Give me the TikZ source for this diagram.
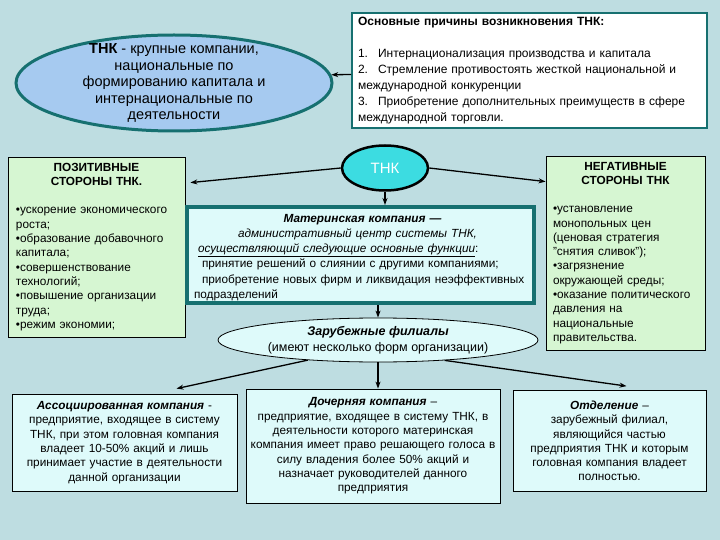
\documentclass[tikz,border=0pt]{standalone}
\usepackage{fontspec}
\setmainfont{Liberation Sans}
\usetikzlibrary{shapes.geometric,arrows.meta}
\definecolor{bgcol}{RGB}{190,221,225}
\definecolor{ellcol}{RGB}{166,202,240}
\definecolor{tealcol}{RGB}{22,112,112}
\definecolor{greencol}{RGB}{214,246,210}
\definecolor{lightcyan}{RGB}{222,250,250}
\definecolor{tnkcol}{RGB}{60,220,225}

\begin{document}
\begin{tikzpicture}[x=1pt,y=-1pt,
    panel/.style={draw=black, line width=0.8pt, inner xsep=5pt, inner ysep=2pt},
    conn/.style={-{Stealth[length=7pt,width=5pt]}, line width=1.3pt},
    small/.style={font=\fontsize{11.8}{14.3}\selectfont}]
    \fill[bgcol] (0,0) rectangle (720,540);
    \useasboundingbox (0,0) rectangle (720,540);
    % top: definition and reasons
    \node[ellipse, draw=tealcol, line width=3pt, fill=ellcol, minimum width=316, minimum height=96] (def) at (174,83) {};
    \node[align=center, font=\fontsize{14.5}{16.5}\selectfont] (deftext) at (def) {\textbf{ТНК} - крупные компании,\\ национальные по\\ формированию капитала и\\ интернациональные по\\ деятельности};
    \node[panel, draw=tealcol, line width=2pt, fill=white, minimum width=355, minimum height=115, text width=343, inner xsep=6pt,
        font=\fontsize{12}{16}\selectfont] (reasons) at (529.5,70.5)
        {\raggedright\textbf{Основные причины возникновения ТНК:}\\[16pt]
        1.\hspace{10pt}Интернационализация производства и капитала\\
        2.\hspace{10pt}Стремление противостоять жесткой национальной и\\
        международной конкуренции\\
        3.\hspace{10pt}Приобретение дополнительных преимуществ в сфере\\
        международной торговли.};
    \draw[conn] ([yshift=-4pt]reasons.west) -- (def.3);
    % middle row
    \node[ellipse, draw=black, line width=2.5pt, fill=tnkcol, minimum width=86, minimum height=45, text=white,
        font=\fontsize{15}{18}\selectfont] (tnk) at (385,168) {ТНК};
    \node[panel, small, fill=greencol, minimum width=177, minimum height=180, text width=161, inner xsep=8pt] (pos) at (96.5,247)
        {{\centering\bfseries ПОЗИТИВНЫЕ\\ СТОРОНЫ ТНК.\par}\vspace{14pt}
        \raggedright •ускорение экономического\\ роста;\\ •образование добавочного\\ капитала;\\
        •совершенствование\\ технологий;\\ •повышение организации\\ труда;\\ •режим экономии;};
    \node[panel, small, fill=greencol, minimum width=159, minimum height=194, text width=145, inner xsep=7pt] (neg) at (625.5,253)
        {{\centering\bfseries НЕГАТИВНЫЕ\\ СТОРОНЫ ТНК\par}\vspace{14pt}
        \raggedright •установление\\ монопольных цен\\ (ценовая стратегия\\ "снятия сливок");\\
        •загрязнение\\ окружающей среды;\\ •оказание политического\\ давления на\\ национальные\\ правительства.};
    \node[draw=tealcol, line width=4pt, fill=lightcyan, minimum width=347, minimum height=96] (mother) at (360.5,255) {};
    \node[text width=337, font=\fontsize{11.8}{15.3}\selectfont] (mothertext) at ([xshift=2pt,yshift=-2.5pt]mother.center)
        {\raggedright\centerline{\textbf{\textit{Материнская компания —}}}
        \hspace*{44pt}\textit{административный центр системы ТНК,}\\
        \hspace*{4pt}\underline{\textit{осуществляющий следующие основные функции}}:\\
        \hspace*{8pt}принятие решений о слиянии с другими компаниями;\\
        \hspace*{8pt}приобретение новых фирм и ликвидация неэффективных\\
        подразделений};
    \draw[conn] (tnk.west) -- ([xshift=5pt,yshift=-26pt]pos.north east);
    \draw[conn] (tnk.east) -- ([yshift=-26pt]neg.north west);
    \draw[conn] (tnk.south) -- (tnk.south |- mother.north);
    % subsidiaries
    \node[ellipse, draw=black, line width=0.8pt, fill=lightcyan, minimum width=320, minimum height=44, inner sep=0pt,
        align=center, font=\fontsize{12.5}{16}\selectfont] (abroad) at (378,340)
        {\textbf{\textit{Зарубежные филиалы}}\\ (имеют несколько форм организации)};
    \draw[conn] (mother.south -| abroad.north) -- (abroad.north);
    \node[panel, small, fill=lightcyan, minimum width=225, minimum height=97, text width=215, align=center] (assoc) at (124.5,442.5)
        {\textbf{\textit{Ассоциированная компания}} -\\ предприятие, входящее в систему\\ ТНК, при этом головная компания\\
        владеет 10-50\% акций и лишь\\ принимает участие в деятельности\\ данной организации};
    \node[panel, small, fill=lightcyan, minimum width=254, minimum height=114, text width=248, inner xsep=3pt, align=center] (daughter) at (373,446)
        {\textbf{\textit{Дочерняя компания}} –\\ предприятие, входящее в систему ТНК, в\\ деятельности которого материнская\\
        компания имеет право решающего голоса в\\ силу владения более 50\% акций и\\ назначает руководителей данного\\ предприятия};
    \node[panel, small, fill=lightcyan, minimum width=193, minimum height=101, text width=183, align=center] (branch) at (609.5,441)
        {\textbf{\textit{Отделение}} –\\ зарубежный филиал,\\ являющийся частью\\ предприятия ТНК и которым\\
        головная компания владеет\\ полностью.};
    \draw[conn] (abroad.196) -- ([xshift=52pt,yshift=5pt]assoc.north);
    \draw[conn] (abroad.south) -- (abroad.south |- daughter.north);
    \draw[conn] (abroad.343) -- ([xshift=17pt,yshift=4pt]branch.north);
\end{tikzpicture}
\end{document}
